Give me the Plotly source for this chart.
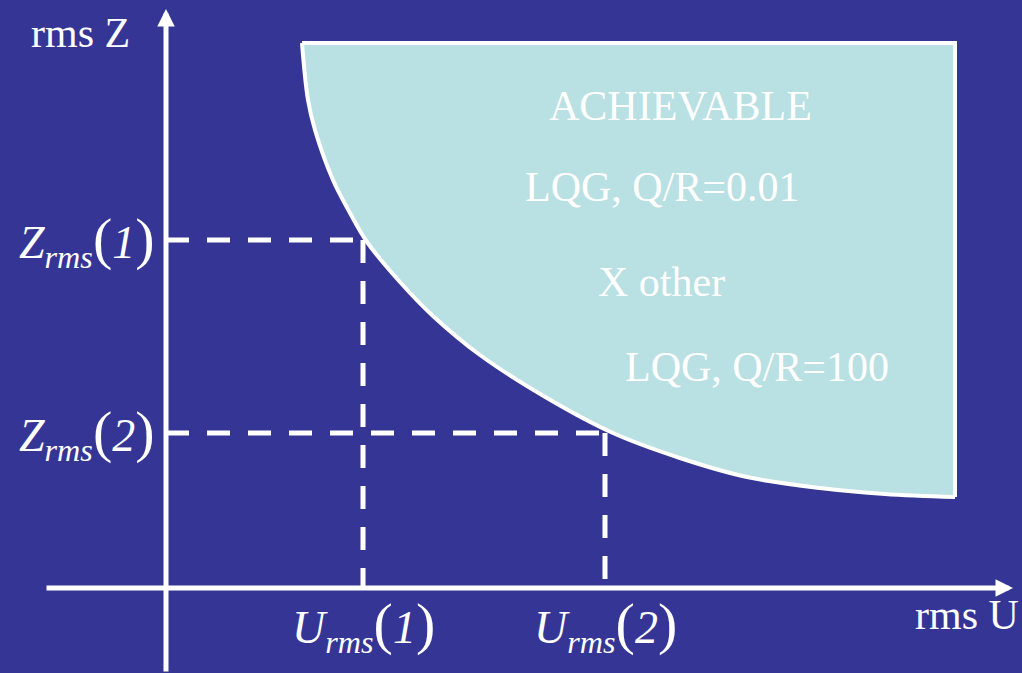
import plotly.graph_objects as go

# trade-off curve (rms U vs rms Z)
curve_u = [1.36, 1.42, 1.49, 1.67, 1.84, 2.01, 2.34, 2.67, 3.14, 3.81, 4.47, 5.14, 5.81, 6.54, 7.19, 7.89]
curve_z = [5.45, 4.88, 4.58, 4.08, 3.75, 3.46, 3.06, 2.72, 2.33, 1.90, 1.55, 1.30, 1.11, 1.00, 0.94, 0.91]
region_top = 5.45
region_right = 7.89

# the two marked operating points
point_labels = ["1", "2"]
u_marks = [1.97, 4.39]
z_marks = [3.48, 1.55]

# text inside the achievable region
region_texts = ["ACHIEVABLE", "LQG, Q/R=0.01", "X other", "LQG, Q/R=100"]
region_text_u = [5.14, 4.96, 4.95, 5.91]
region_text_z = [4.82, 4.01, 3.06, 2.21]

BG = "rgb(53,53,150)"
FILL = "rgb(185,224,226)"
WHITE = "white"
FONT = "Liberation Serif, Times New Roman, serif"

x_range = [-1.66, 8.56]
y_range = [-0.85, 5.88]

fig = go.Figure()

# achievable region: top and right edges, then the curved edge filled up to them
fig.add_trace(go.Scatter(
    x=[curve_u[0], region_right, region_right],
    y=[region_top, region_top, curve_z[-1]],
    mode="lines",
    line=dict(color=WHITE, width=4),
    hoverinfo="skip",
))
fig.add_trace(go.Scatter(
    x=curve_u, y=curve_z,
    mode="lines",
    fill="tonexty",
    fillcolor=FILL,
    line=dict(color=WHITE, width=4, shape="spline", smoothing=1),
    hoverinfo="skip",
))

# dashed guide lines to the axes
for u, z in zip(u_marks, z_marks):
    fig.add_trace(go.Scatter(
        x=[0, u], y=[z, z], mode="lines",
        line=dict(color=WHITE, width=5, dash="23px,18px"), hoverinfo="skip",
    ))
    fig.add_trace(go.Scatter(
        x=[u, u], y=[z, 0], mode="lines",
        line=dict(color=WHITE, width=5, dash="23px,18px"), hoverinfo="skip",
    ))

# axes with arrowheads
fig.add_annotation(x=8.47, y=0, ax=-1.21, ay=0, xref="x", yref="y", axref="x", ayref="y",
                   text="", showarrow=True, arrowhead=2, arrowsize=0.7, arrowwidth=5,
                   arrowcolor=WHITE)
fig.add_annotation(x=0, y=5.79, ax=0, ay=y_range[0], xref="x", yref="y", axref="x", ayref="y",
                   text="", showarrow=True, arrowhead=2, arrowsize=0.7, arrowwidth=5,
                   arrowcolor=WHITE)

fig.add_annotation(x=-0.86, y=5.55, text="rms Z", showarrow=False,
                   font=dict(family=FONT, size=42, color=WHITE))
fig.add_annotation(x=8.01, y=-0.27, text="rms U", showarrow=False,
                   font=dict(family=FONT, size=42, color=WHITE))

for t, u, z in zip(region_texts, region_text_u, region_text_z):
    fig.add_annotation(x=u, y=z, text=t, showarrow=False,
                       font=dict(family=FONT, size=42, color=WHITE))


def math_label(letter, idx):
    return ("<i>%s</i><sub><i>rms</i></sub>"
            "<span style='font-size:58px'>(</span><i>%s</i>"
            "<span style='font-size:58px'>)</span>") % (letter, idx)


for lab, u, z in zip(point_labels, u_marks, z_marks):
    fig.add_annotation(x=-0.79, y=z, text=math_label("Z", lab), showarrow=False,
                       font=dict(family=FONT, size=46, color=WHITE))
    fig.add_annotation(x=u, y=-0.37, text=math_label("U", lab), showarrow=False,
                       font=dict(family=FONT, size=46, color=WHITE))

fig.update_layout(
    width=1022,
    height=673,
    margin=dict(l=0, r=0, t=0, b=0),
    paper_bgcolor=BG,
    plot_bgcolor=BG,
    showlegend=False,
    xaxis=dict(range=x_range, visible=False, fixedrange=True),
    yaxis=dict(range=y_range, visible=False, fixedrange=True),
)

fig.write_html("out.html", config={"displayModeBar": False},
               post_script="document.body.style.margin='0';")
